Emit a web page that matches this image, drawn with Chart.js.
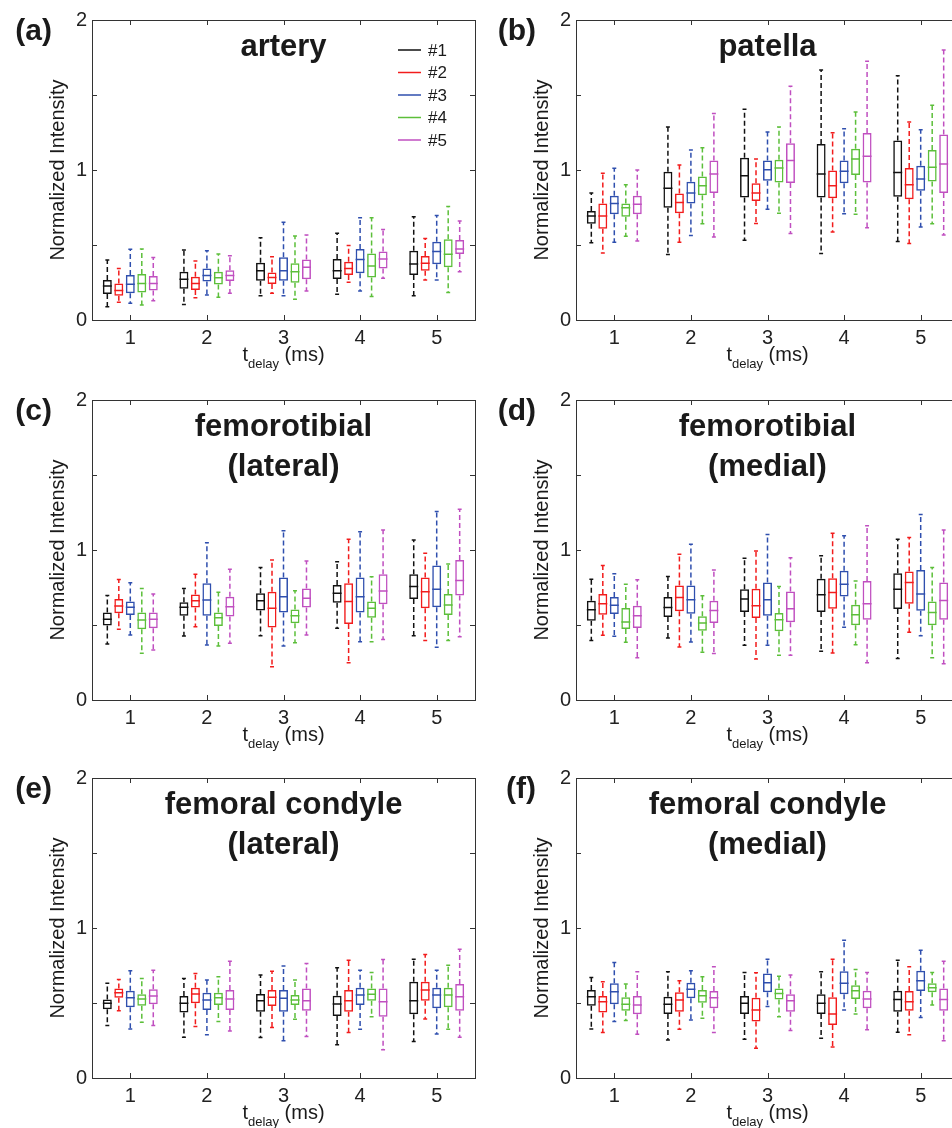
<!DOCTYPE html>
<html>
<head>
<meta charset="utf-8">
<script src="https://cdn.jsdelivr.net/npm/chart.js@4.4.1/dist/chart.umd.min.js"></script>
<style>
  html, body { margin: 0; padding: 0; background: #fff; overflow: hidden; }
  body { width: 952px; height: 1128px; position: relative; }
  canvas { position: absolute; }
</style>
</head>
<body>
<script>
// t_delay categories and series
const delays = ['1', '2', '3', '4', '5'];
const seriesNames = ['#1', '#2', '#3', '#4', '#5'];
const seriesColors = ['#111111', '#f21c1c', '#2f4fae', '#5cbf3a', '#c04fc0'];
const yTicks = [0, 0.5, 1, 1.5, 2];

// each entry: [lower whisker, q1, median, q3, upper whisker] per delay
const arteryS1 = [[0.089,0.173,0.227,0.267,0.40],[0.104,0.209,0.271,0.322,0.467],[0.162,0.262,0.329,0.382,0.549],[0.171,0.273,0.329,0.407,0.578],[0.162,0.30,0.373,0.462,0.689]];
const arteryS2 = [[0.118,0.162,0.196,0.244,0.344],[0.149,0.20,0.244,0.289,0.393],[0.178,0.24,0.284,0.316,0.422],[0.251,0.30,0.344,0.389,0.496],[0.267,0.329,0.378,0.427,0.544]];
const arteryS3 = [[0.111,0.178,0.238,0.30,0.471],[0.167,0.256,0.296,0.344,0.462],[0.162,0.262,0.329,0.418,0.651],[0.193,0.311,0.404,0.473,0.682],[0.267,0.371,0.456,0.522,0.696]];
const arteryS4 = [[0.10,0.184,0.244,0.307,0.473],[0.151,0.236,0.282,0.322,0.44],[0.138,0.249,0.322,0.378,0.56],[0.156,0.284,0.36,0.444,0.682],[0.184,0.351,0.438,0.538,0.756]];
const arteryS5 = [[0.129,0.196,0.244,0.293,0.416],[0.178,0.26,0.296,0.331,0.429],[0.193,0.271,0.351,0.404,0.567],[0.278,0.344,0.407,0.456,0.604],[0.322,0.44,0.473,0.533,0.66]];

const patellaS1 = [[0.515,0.642,0.694,0.727,0.846],[0.436,0.749,0.879,0.989,1.286],[0.532,0.817,0.962,1.081,1.405],[0.443,0.817,0.973,1.174,1.667],[0.523,0.821,0.984,1.197,1.629]];
const patellaS2 = [[0.447,0.609,0.694,0.776,0.978],[0.519,0.711,0.783,0.843,1.034],[0.644,0.794,0.846,0.911,1.074],[0.586,0.812,0.895,0.996,1.248],[0.51,0.805,0.902,1.013,1.32]];
const patellaS3 = [[0.519,0.705,0.776,0.828,1.011],[0.564,0.776,0.846,0.922,1.134],[0.738,0.928,1.002,1.063,1.253],[0.709,0.911,0.991,1.063,1.275],[0.62,0.861,0.94,1.029,1.268]];
const patellaS4 = [[0.559,0.689,0.749,0.776,0.902],[0.642,0.832,0.895,0.957,1.148],[0.711,0.917,1.013,1.069,1.286],[0.705,0.966,1.074,1.141,1.387],[0.642,0.924,1.018,1.134,1.432]];
const patellaS5 = [[0.526,0.705,0.772,0.828,1.0],[0.553,0.846,0.973,1.063,1.376],[0.577,0.913,1.063,1.179,1.559],[0.615,0.917,1.092,1.246,1.725],[0.566,0.846,1.04,1.237,1.80]];

const ftLatS1 = [[0.373,0.496,0.538,0.584,0.696],[0.427,0.562,0.618,0.651,0.744],[0.429,0.596,0.662,0.711,0.884],[0.478,0.649,0.711,0.767,0.922],[0.429,0.673,0.756,0.838,1.067]];
const ftLatS2 = [[0.471,0.578,0.627,0.673,0.804],[0.489,0.616,0.662,0.704,0.838],[0.222,0.484,0.611,0.722,0.933],[0.249,0.507,0.656,0.778,1.071],[0.396,0.611,0.722,0.816,0.978]];
const ftLatS3 = [[0.433,0.567,0.618,0.656,0.782],[0.367,0.562,0.667,0.778,1.049],[0.36,0.584,0.689,0.816,1.129],[0.389,0.584,0.689,0.816,1.122],[0.351,0.618,0.738,0.896,1.256]];
const ftLatS4 = [[0.311,0.471,0.533,0.584,0.744],[0.36,0.493,0.549,0.584,0.718],[0.382,0.511,0.562,0.604,0.729],[0.389,0.549,0.611,0.656,0.822],[0.396,0.567,0.633,0.707,0.907]];
const ftLatS5 = [[0.333,0.478,0.538,0.584,0.707],[0.378,0.556,0.622,0.689,0.871],[0.433,0.616,0.678,0.744,0.927],[0.404,0.638,0.727,0.838,1.133],[0.422,0.696,0.796,0.933,1.271]];

const ftMedS1 = [[0.396,0.529,0.602,0.662,0.805],[0.414,0.553,0.617,0.686,0.823],[0.365,0.586,0.673,0.739,0.945],[0.325,0.586,0.701,0.808,0.962],[0.277,0.606,0.739,0.845,1.071]];
const ftMedS2 = [[0.431,0.569,0.642,0.706,0.896],[0.354,0.591,0.684,0.763,0.971],[0.274,0.546,0.628,0.741,0.993],[0.314,0.608,0.717,0.812,1.111],[0.451,0.642,0.783,0.856,1.084]];
const ftMedS3 = [[0.425,0.573,0.631,0.686,0.841],[0.387,0.575,0.668,0.763,1.038],[0.365,0.562,0.668,0.783,1.104],[0.485,0.69,0.772,0.861,1.095],[0.429,0.595,0.706,0.867,1.237]];
const ftMedS4 = [[0.385,0.473,0.52,0.613,0.772],[0.319,0.462,0.513,0.558,0.695],[0.299,0.458,0.535,0.58,0.757],[0.369,0.498,0.569,0.635,0.794],[0.281,0.498,0.584,0.657,0.883]];
const ftMedS5 = [[0.281,0.48,0.562,0.628,0.801],[0.31,0.513,0.597,0.662,0.867],[0.299,0.518,0.608,0.723,0.949],[0.248,0.535,0.642,0.794,1.162],[0.241,0.535,0.664,0.783,1.133]];

const fcLatS1 = [[0.35,0.458,0.498,0.524,0.631],[0.272,0.436,0.498,0.546,0.664],[0.27,0.442,0.515,0.56,0.686],[0.221,0.414,0.493,0.549,0.735],[0.243,0.425,0.515,0.642,0.792]];
const fcLatS2 = [[0.449,0.535,0.569,0.597,0.657],[0.343,0.498,0.56,0.602,0.697],[0.336,0.48,0.538,0.586,0.712],[0.303,0.442,0.515,0.586,0.785],[0.394,0.515,0.586,0.642,0.823]];
const fcLatS3 = [[0.327,0.471,0.535,0.582,0.715],[0.288,0.454,0.52,0.569,0.653],[0.248,0.442,0.531,0.586,0.746],[0.325,0.487,0.553,0.602,0.719],[0.294,0.465,0.553,0.602,0.719]];
const fcLatS4 = [[0.372,0.482,0.527,0.558,0.664],[0.376,0.487,0.535,0.569,0.675],[0.392,0.487,0.52,0.553,0.653],[0.409,0.515,0.558,0.597,0.704],[0.325,0.471,0.553,0.602,0.752]];
const fcLatS5 = [[0.35,0.491,0.546,0.591,0.719],[0.314,0.454,0.527,0.586,0.779],[0.277,0.449,0.515,0.597,0.763],[0.188,0.409,0.509,0.597,0.79],[0.272,0.449,0.542,0.626,0.858]];

const fcMedS1 = [[0.327,0.482,0.542,0.586,0.67],[0.254,0.427,0.491,0.542,0.708],[0.259,0.427,0.498,0.546,0.704],[0.265,0.427,0.498,0.558,0.708],[0.305,0.442,0.524,0.582,0.785]];
const fcMedS2 = [[0.303,0.436,0.509,0.546,0.642],[0.325,0.442,0.52,0.571,0.648],[0.199,0.376,0.454,0.535,0.701],[0.206,0.354,0.427,0.538,0.792],[0.288,0.449,0.509,0.58,0.741]];
const fcMedS3 = [[0.376,0.491,0.575,0.631,0.77],[0.387,0.531,0.591,0.635,0.715],[0.476,0.571,0.635,0.697,0.792],[0.454,0.558,0.631,0.712,0.918],[0.403,0.58,0.648,0.715,0.852]];
const fcMedS4 = [[0.383,0.449,0.491,0.538,0.626],[0.398,0.502,0.549,0.586,0.675],[0.409,0.524,0.564,0.597,0.679],[0.427,0.527,0.582,0.619,0.723],[0.487,0.571,0.602,0.631,0.704]];
const fcMedS5 = [[0.292,0.425,0.487,0.546,0.708],[0.303,0.465,0.535,0.58,0.741],[0.316,0.442,0.515,0.558,0.686],[0.321,0.465,0.527,0.582,0.704],[0.248,0.449,0.524,0.597,0.779]];

const panels = [
  { letter: '(a)', title: ['artery'], stats: [arteryS1, arteryS2, arteryS3, arteryS4, arteryS5], left: 0, top: 0, h: 380, legend: true },
  { letter: '(b)', title: ['patella'], stats: [patellaS1, patellaS2, patellaS3, patellaS4, patellaS5], left: 484, top: 0, h: 380 },
  { letter: '(c)', title: ['femorotibial', '(lateral)'], stats: [ftLatS1, ftLatS2, ftLatS3, ftLatS4, ftLatS5], left: 0, top: 380, h: 378 },
  { letter: '(d)', title: ['femorotibial', '(medial)'], stats: [ftMedS1, ftMedS2, ftMedS3, ftMedS4, ftMedS5], left: 484, top: 380, h: 378 },
  { letter: '(e)', title: ['femoral condyle', '(lateral)'], stats: [fcLatS1, fcLatS2, fcLatS3, fcLatS4, fcLatS5], left: 0, top: 758, h: 370 },
  { letter: '(f)', title: ['femoral condyle', '(medial)'], stats: [fcMedS1, fcMedS2, fcMedS3, fcMedS4, fcMedS5], left: 484, top: 758, h: 370 }
];

Chart.defaults.font.family = '"Liberation Sans", Arial, Helvetica, sans-serif';
const FONT = '"Liberation Sans", Arial, Helvetica, sans-serif';

// box frame with inward ticks, matlab style
const framePlugin = {
  id: 'frame',
  afterDatasetsDraw(chart) {
    const { ctx, chartArea: a, scales } = chart;
    ctx.save();
    ctx.strokeStyle = '#333';
    ctx.lineWidth = 1;
    ctx.strokeRect(a.left + 0.5, a.top + 0.5, a.right - a.left, a.bottom - a.top);
    ctx.beginPath();
    yTicks.forEach(v => {
      const py = Math.round(scales.y.getPixelForValue(v)) + 0.5;
      ctx.moveTo(a.left, py); ctx.lineTo(a.left + 5, py);
      ctx.moveTo(a.right, py); ctx.lineTo(a.right - 5, py);
    });
    delays.forEach((d, i) => {
      const px = Math.round(scales.x.getPixelForValue(i)) + 0.5;
      ctx.moveTo(px, a.bottom); ctx.lineTo(px, a.bottom - 5);
      ctx.moveTo(px, a.top); ctx.lineTo(px, a.top + 5);
    });
    ctx.stroke();
    ctx.restore();
  }
};

// medians and dashed whiskers on top of the floating bars
const boxPlugin = {
  id: 'boxWhiskers',
  afterDatasetsDraw(chart) {
    const ctx = chart.ctx;
    const y = chart.scales.y;
    chart.data.datasets.forEach((ds, i) => {
      const meta = chart.getDatasetMeta(i);
      meta.data.forEach((bar, j) => {
        const s = ds.stats[j];
        const x = bar.x, w = bar.width;
        const py = v => y.getPixelForValue(v);
        ctx.save();
        ctx.strokeStyle = ds.borderColor;
        ctx.lineWidth = 1.5;
        ctx.beginPath();
        ctx.moveTo(x - w / 2, py(s[2])); ctx.lineTo(x + w / 2, py(s[2]));
        const c = w * 0.22;
        ctx.moveTo(x - c, py(s[4])); ctx.lineTo(x + c, py(s[4]));
        ctx.moveTo(x - c, py(s[0])); ctx.lineTo(x + c, py(s[0]));
        ctx.stroke();
        ctx.setLineDash([5, 3]);
        ctx.beginPath();
        ctx.moveTo(x, py(s[3])); ctx.lineTo(x, py(s[4]));
        ctx.moveTo(x, py(s[1])); ctx.lineTo(x, py(s[0]));
        ctx.stroke();
        ctx.restore();
      });
    });
  }
};

// labels, titles, legend
const textPlugin = {
  id: 'texts',
  afterDraw(chart) {
    const p = chart.options.plugins.texts;
    const { ctx, chartArea: a } = chart;
    const cx = (a.left + a.right) / 2;
    ctx.save();
    ctx.fillStyle = '#1a1a1a';
    ctx.font = 'bold 30px ' + FONT;
    ctx.textAlign = 'right';
    ctx.textBaseline = 'alphabetic';
    ctx.fillText(p.letter, 52, 40);

    ctx.font = 'bold 31px ' + FONT;
    ctx.textAlign = 'center';
    p.title.forEach((t, k) => ctx.fillText(t, cx, 56 + k * 40));

    // y axis title
    ctx.font = '20px ' + FONT;
    ctx.save();
    ctx.translate(64, (a.top + a.bottom) / 2);
    ctx.rotate(-Math.PI / 2);
    ctx.fillText('Normalized Intensity', 0, 0);
    ctx.restore();

    // x axis title with subscript
    const f1 = '20px ' + FONT, f2 = '13px ' + FONT;
    ctx.font = f1; const wt = ctx.measureText('t').width; const wr = ctx.measureText(' (ms)').width;
    ctx.font = f2; const ws = ctx.measureText('delay').width;
    let x0 = cx - (wt + ws + wr) / 2;
    const base = a.bottom + 41;
    ctx.textAlign = 'left';
    ctx.font = f1; ctx.fillText('t', x0, base);
    ctx.font = f2; ctx.fillText('delay', x0 + wt, base + 7);
    ctx.font = f1; ctx.fillText(' (ms)', x0 + wt + ws, base);

    if (p.legend) {
      ctx.font = '17px ' + FONT;
      ctx.textBaseline = 'middle';
      seriesNames.forEach((n, k) => {
        const ly = 50 + k * 22.5;
        ctx.strokeStyle = seriesColors[k];
        ctx.lineWidth = 1.5;
        ctx.beginPath(); ctx.moveTo(398, ly); ctx.lineTo(421, ly); ctx.stroke();
        ctx.fillStyle = '#1a1a1a';
        ctx.fillText(n, 428, ly + 1);
      });
    }
    ctx.restore();
  }
};

panels.forEach(p => {
  const cv = document.createElement('canvas');
  cv.width = 480; cv.height = p.h;
  cv.style.left = p.left + 'px'; cv.style.top = p.top + 'px';
  cv.style.width = '480px'; cv.style.height = p.h + 'px';
  document.body.appendChild(cv);

  new Chart(cv.getContext('2d'), {
    type: 'bar',
    data: {
      labels: delays,
      datasets: seriesNames.map((n, k) => ({
        label: n,
        data: p.stats[k].map(s => [s[1], s[3]]),
        stats: p.stats[k],
        borderColor: seriesColors[k],
        backgroundColor: 'rgba(255,255,255,0)',
        borderWidth: 1.5,
        borderSkipped: false,
        categoryPercentage: 0.75,
        barPercentage: 0.78
      }))
    },
    options: {
      responsive: false,
      animation: false,
      devicePixelRatio: 1,
      events: [],
      layout: { padding: { top: 20, right: 5, left: 0, bottom: 0 } },
      plugins: {
        legend: { display: false },
        tooltip: { enabled: false },
        texts: { letter: p.letter, title: p.title, legend: !!p.legend }
      },
      scales: {
        x: {
          grid: { display: false, drawTicks: false, tickLength: 0 },
          border: { display: false },
          ticks: { font: { size: 20 }, color: '#222', padding: 6, maxRotation: 0 },
          afterFit: s => { s.height = p.h - 320; }
        },
        y: {
          min: 0, max: 2,
          grid: { display: false, drawTicks: false, tickLength: 0 },
          border: { display: false },
          ticks: {
            stepSize: 0.5, font: { size: 20 }, color: '#222', padding: 5,
            callback: v => Number.isInteger(v) ? v : ''
          },
          afterFit: s => { s.width = 92; }
        }
      }
    },
    plugins: [boxPlugin, framePlugin, textPlugin]
  });
});
</script>
</body>
</html>
